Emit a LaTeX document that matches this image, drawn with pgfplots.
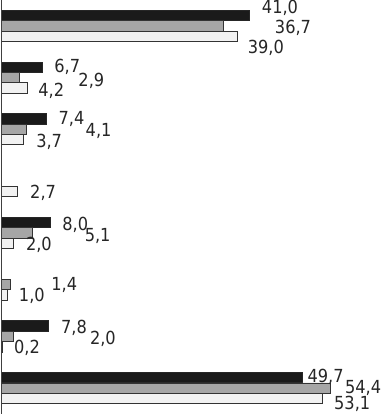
\documentclass[border=0pt]{standalone}
\usepackage{pgfplots}
\usepackage{pgfplotstable}
\pgfplotsset{compat=1.18}
\usepackage{fontspec}
\setmainfont{DejaVu Sans Condensed}
\definecolor{cblack}{HTML}{1A1A1A}
\definecolor{cgray}{HTML}{A6A6A6}
\definecolor{clight}{HTML}{F2F2F2}

\pgfplotstableread{
y x dx dy
0 41.0 12 -7.5
1 6.7 12 0
2 7.4 12 0
4 8.0 12 2
6 7.8 12 1.5
7 49.7 5 -1
}\blackdata
\pgfplotstableread{
y x dx dy
0 36.7 51 1.5
1 2.9 59 3
2 4.1 59 2
4 5.1 52 3
5 1.4 41 0
6 2.0 76 2
7 54.4 14 0
}\graydata
\pgfplotstableread{
y x dx dy
0 39.0 10 11.5
1 4.2 11 3
2 3.7 12 2
3 2.7 12 1
4 2.0 12 2
5 1.0 11 1
6 0.2 11 1.5
7 53.1 11 5.5
}\lightdata

\begin{document}
\begin{tikzpicture}
\begin{axis}[
  width=380pt, height=414pt, scale only axis,
  xbar, bar width=0.2,
  xmin=-0.25, xmax=62.56, ymin=-0.5, ymax=7.5, y dir=reverse,
  hide axis, clip=false,
  point meta=x,
  nodes near coords={\pgfmathprintnumber[fixed,fixed zerofill,precision=1,use comma,assume math mode=true]{\pgfplotspointmeta}},
  visualization depends on={\thisrow{dx} \as \dx},
  visualization depends on={\thisrow{dy} \as \dy},
  every node near coord/.append style={anchor=west, inner sep=0pt, xshift=\dx pt, yshift=-\dy pt, font=\fontsize{18}{20}\selectfont, text=black!85},
]
\addplot[bar shift=-0.2, fill=cblack, draw=black!85, line width=0.8pt] table[x=x,y=y]{\blackdata};
\addplot[bar shift=0, fill=cgray, draw=black!80, line width=0.8pt] table[x=x,y=y]{\graydata};
\addplot[bar shift=0.2, fill=clight, draw=black!80, line width=0.8pt] table[x=x,y=y]{\lightdata};
\draw[black!75, line width=1.2pt] (axis cs:0,-0.5) -- (axis cs:0,7.5);
\end{axis}
\pgfresetboundingbox
\useasboundingbox (current axis.south west) rectangle (current axis.north east);
\end{tikzpicture}
\end{document}
